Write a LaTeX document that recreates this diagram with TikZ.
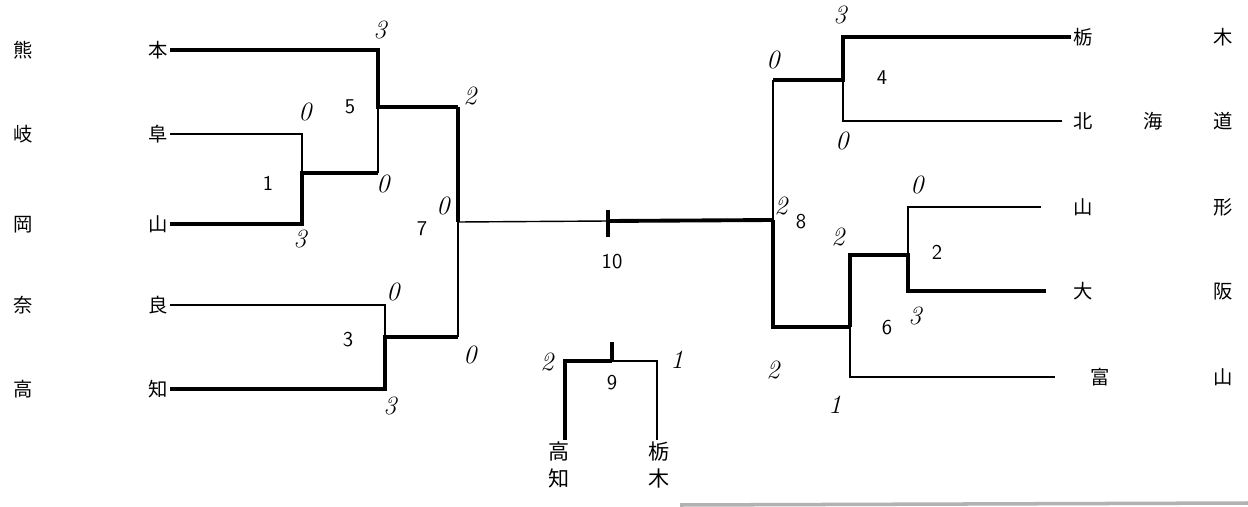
\documentclass[tikz,border=0pt]{standalone}
\usepackage{fontspec}
\newfontfamily\jpfont{Noto Sans CJK JP}
\usetikzlibrary{positioning}
\tikzset{
  win/.style={line width=2.2pt},
  lose/.style={line width=0.8pt},
  team/.style={font=\jpfont\fontsize{11}{13}\selectfont, inner sep=1pt},
  hand/.style={font=\jpfont\fontsize{12}{15}\selectfont, inner sep=1pt, align=center},
  score/.style={font=\itshape\fontsize{15}{16}\selectfont, inner sep=0pt},
  game/.style={font=\sffamily\fontsize{12}{14}\selectfont, inner sep=0pt},
}
\newcommand{\lname}[2]{\makebox[3.1cm][s]{#1\hfill #2}}
\newcommand{\rname}[1]{\makebox[3.2cm][s]{#1}}

\begin{document}
\begin{tikzpicture}[x=0.02cm,y=-0.02cm]
  \useasboundingbox (0,0) rectangle (1248,507);

  % Left half
  \begin{scope}
    \node[team, anchor=west] (kumamoto) at (11,50) {\lname{熊}{本}};
    \node[team, anchor=west] (gifu) at (11,134) {\lname{岐}{阜}};
    \node[team, anchor=west] (okayama) at (11,224) {\lname{岡}{山}};
    \node[team, anchor=west] (nara) at (11,305) {\lname{奈}{良}};
    \node[team, anchor=west] (kochi) at (11,389) {\lname{高}{知}};

    \coordinate (m1t) at (302,134);
    \coordinate (m1) at (302,173);
    \coordinate (m1b) at (302,224);
    \coordinate (m5t) at (378,50);
    \coordinate (m5) at (378,107);
    \coordinate (m5b) at (378,173);
    \coordinate (m3t) at (385,305);
    \coordinate (m3) at (385,337);
    \coordinate (m3b) at (385,389);
    \coordinate (m7t) at (458,107);
    \coordinate (m7) at (458,222);
    \coordinate (m7b) at (458,337);

    \draw[lose] (gifu.east) -- (m1t) -- (m1);
    \draw[win] (okayama.east) -- (m1b) -- (m1) -- (m5b);
    \draw[win] (kumamoto.east) -- (m5t) -- (m5) -- (m7t);
    \draw[lose] (m5) -- (m5b);
    \draw[lose] (nara.east) -- (m3t) -- (m3);
    \draw[win] (kochi.east) -- (m3b) -- (m3) -- (m7b);
    \draw[win] (m7t) -- (m7);
    \draw[lose] (m7) -- (m7b);

    \node[score] at (305,112) {0};
    \node[score] at (300,239) {3};
    \node[game] at (268,183) {1};
    \node[score] at (380,30) {3};
    \node[score] at (383,184) {0};
    \node[game] at (350,107) {5};
    \node[score] at (393,292) {0};
    \node[score] at (390,406) {3};
    \node[game] at (348,340) {3};
    \node[score] at (470,96) {2};
    \node[score] at (443,206) {0};
    \node[score] at (470,355) {0};
    \node[game] at (422,229) {7};
  \end{scope}

  % Final
  \coordinate (m10) at (608,221);
  \coordinate (m8) at (773,220);
  \draw[lose] (m7) -- (m10);
  \draw[win] (m10) -- (m8);
  \draw[win] ([yshift=6]m10) -- ([yshift=-9]m10);
  \node[game] at (612,262) {10};

  % Right half
  \begin{scope}
    \node[team, anchor=west] (tochigi) at (1071,37) {\rname{栃\hfill 木}};
    \node[team, anchor=west] (hokkaido) at (1071,121) {\rname{北\hfill 海\hfill 道}};
    \node[team, anchor=west] (yamagata) at (1071,207) {\rname{山\hfill 形}};
    \node[team, anchor=west] (osaka) at (1071,291) {\rname{大\hfill 阪}};
    \node[team, anchor=west] (toyama) at (1071,377) {\rname{\hspace{10pt}富\hfill 山}};

    \coordinate (m4t) at (843,37);
    \coordinate (m4) at (843,80);
    \coordinate (m4b) at (843,121);
    \coordinate (m8t) at (773,80);
    \coordinate (m8b) at (773,327);
    \coordinate (m2t) at (908,207);
    \coordinate (m2) at (908,255);
    \coordinate (m2b) at (908,291);
    \coordinate (m6t) at (850,255);
    \coordinate (m6) at (850,327);
    \coordinate (m6b) at (850,377);

    \draw[win] (tochigi.west) -- (m4t) -- (m4) -- (m8t);
    \draw[lose] ([xshift=-5]hokkaido.west) -- (m4b) -- (m4);
    \draw[lose] (m8t) -- (m8);
    \draw[win] (m8) -- (m8b) -- (m6);
    \draw[lose] ([xshift=-17]yamagata.west) -- (m2t) -- (m2);
    \draw[win] ([xshift=-14]osaka.west) -- (m2b) -- (m2) -- (m6t) -- (m6);
    \draw[lose] (m6) -- (m6b) -- ([xshift=-9]toyama.west);

    \node[score] at (840,15) {3};
    \node[score] at (842,141) {0};
    \node[game] at (882,78) {4};
    \node[score] at (773,60) {0};
    \node[score] at (781,206) {2};
    \node[score] at (773,370) {2};
    \node[game] at (801,222) {8};
    \node[score] at (917,185) {0};
    \node[score] at (915,316) {3};
    \node[game] at (937,252) {2};
    \node[score] at (838,237) {2};
    \node[score] at (835,405) {1};
    \node[game] at (887,328) {6};
  \end{scope}

  % Third place
  \begin{scope}
    \node[hand] (kochi2) at (559,465) {高\\知};
    \node[hand] (tochigi2) at (659,465) {栃\\木};
    \coordinate (m9) at (612,361);
    \draw[win] (kochi2.north -| 565,0) -- (565,361) -- (m9);
    \draw[lose] (m9) -- (657,361) -- (tochigi2.north -| 657,0);
    \draw[win] (m9) -- ([yshift=11]m9);
    \node[game] at (612,383) {9};
    \node[score] at (547,362) {2};
    \node[score] at (677,360) {1};
  \end{scope}

  % page edge
  \draw[line width=2pt, gray!60] (680,505) -- (1248,503);
\end{tikzpicture}
\end{document}
